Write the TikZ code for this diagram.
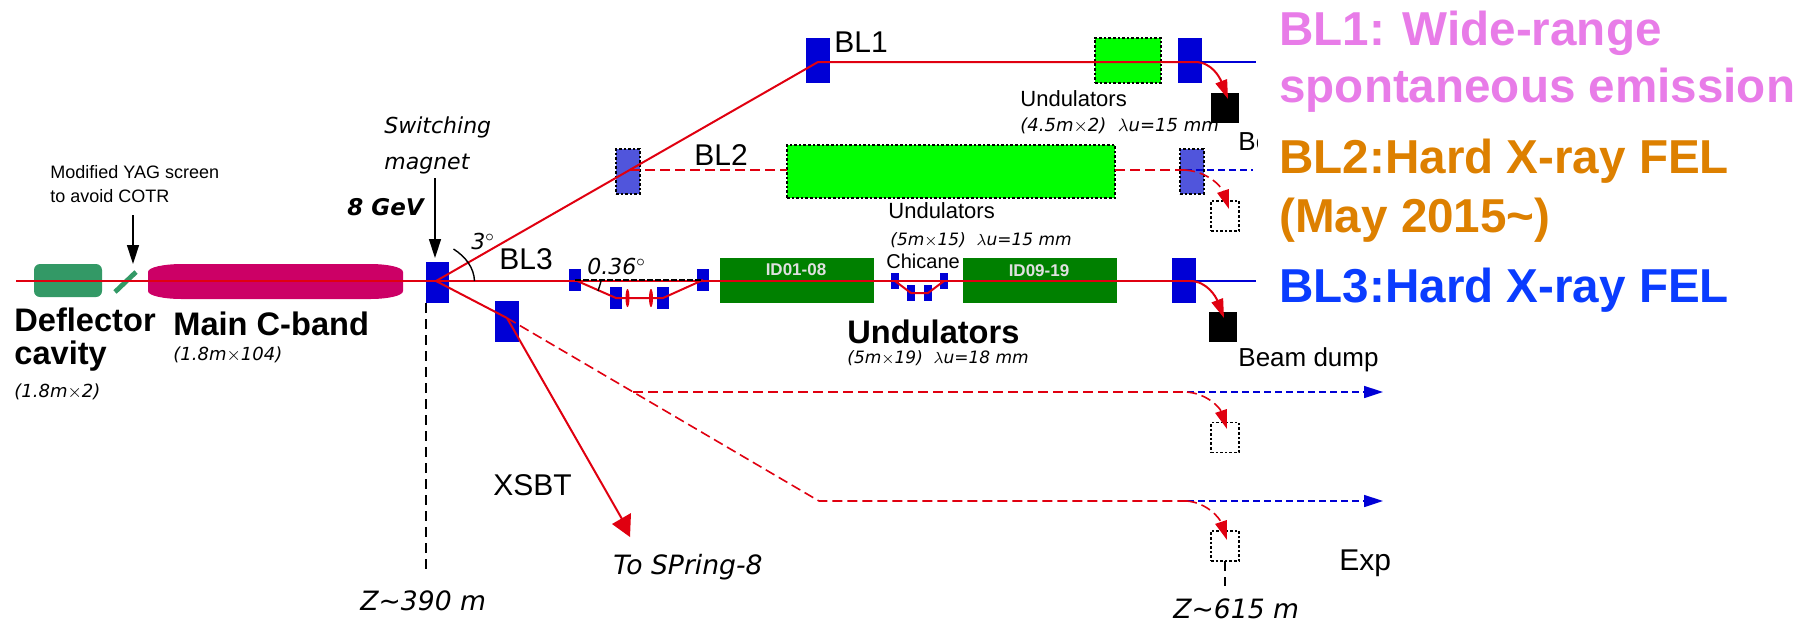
\documentclass[tikz,border=0pt]{standalone}
\usepackage{fontspec}
\setmainfont{Liberation Sans}
\newfontfamily\itfont[ItalicFont={DejaVu Sans Oblique},BoldItalicFont={DejaVu Sans Bold Oblique}]{DejaVu Sans}
\usepackage{tikz}
\usetikzlibrary{arrows.meta}

\definecolor{beamred}{RGB}{224,0,16}
\definecolor{magblue}{RGB}{0,0,214}
\definecolor{magfade}{RGB}{80,85,220}
\definecolor{defgreen}{RGB}{51,153,102}
\definecolor{cbandred}{RGB}{204,0,102}
\definecolor{undgreen}{RGB}{0,128,0}
\definecolor{undlime}{RGB}{0,255,0}
\definecolor{blone}{RGB}{232,124,232}
\definecolor{bltwo}{RGB}{221,128,0}
\definecolor{blthree}{RGB}{10,60,255}

\tikzset{
  box/.style={inner sep=0pt,outer sep=0pt},
  offline/.style={draw=black,line width=0.7pt,dash pattern=on 1.3pt off 1pt},
  magnet/.style={box,fill=magblue},
  magoff/.style={box,fill=magfade,offline},
  undon/.style={box,fill=undlime,offline},
  undoff/.style={box,fill=undgreen},
  dump/.style={box,fill=black,minimum width=14pt,minimum height=15pt},
  dumpoff/.style={box,offline,minimum width=14pt,minimum height=15pt},
  beam/.style={beamred,line width=1pt},
  beamoff/.style={beamred,line width=0.8pt,dash pattern=on 5pt off 2.5pt},
  xray/.style={magblue,line width=1pt},
  xrayoff/.style={magblue,line width=0.8pt,dash pattern=on 3.5pt off 2pt},
  bigtip/.style={-{Triangle[length=9.5pt,width=6pt]}},
  guide/.style={black,line width=0.7pt},
  lab/.style={inner sep=0pt,font=\fontsize{11}{13}\selectfont},
  dumplab/.style={inner sep=0pt,font=\fontsize{13}{15}\selectfont},
  biglab/.style={inner sep=0pt,font=\fontsize{15}{17}\selectfont},
  boldlab/.style={inner sep=0pt,font=\fontsize{16.3}{18}\selectfont\bfseries},
  itlab/.style={inner sep=0pt,font=\fontsize{9}{11}\itfont\itshape},
  itsmall/.style={inner sep=0pt,font=\fontsize{8.5}{11}\itfont\itshape},
  ittall/.style={inner sep=0pt,font=\fontsize{11}{12}\itfont\itshape},
  itlarge/.style={inner sep=0pt,font=\fontsize{13.3}{15}\itfont\itshape},
  smalllab/.style={inner sep=0pt,font=\fontsize{9}{10}\selectfont},
  idlab/.style={inner sep=0pt,text=black!12,font=\fontsize{8.5}{10}\selectfont\bfseries},
  head/.style={inner sep=0pt,anchor=base west,font=\fontsize{23.8}{26}\selectfont\bfseries},
}

\begin{document}
\begin{tikzpicture}[x=0.5pt,y=-0.5pt]
  \useasboundingbox (0,0) rectangle (1804,623);

  % linac
  \node[box,fill=defgreen,rounded corners=3pt,minimum width=34pt,minimum height=16.5pt] at (68,280.5) (defl) {};
  \fill[cbandred] (148,272) .. controls (148,267) and (165,264) .. (182,264) -- (370,264)
    .. controls (387,264) and (403,267) .. (403,272) -- (403,291)
    .. controls (403,296) and (387,299) .. (370,299) -- (182,299)
    .. controls (165,299) and (148,296) .. (148,291) -- cycle;
  \coordinate (yagA) at (115,292);
  \coordinate (yagB) at (136,272);
  \draw[defgreen,line width=2.4pt] (yagA) -- (yagB);

  % magnets on the three lines
  \node[magnet,minimum width=11.5pt,minimum height=20.5pt] at (437,282.5) (sw) {};
  \node[magnet,minimum width=12pt,minimum height=20.5pt] at (507,321.5) (swlow) {};
  \node[magnet,minimum width=12pt,minimum height=22.5pt] at (818,60.5) (magA) {};
  \node[magoff,minimum width=12pt,minimum height=22.5pt] at (628,171.5) (magB) {};
  \node[magnet,minimum width=12pt,minimum height=22.5pt] at (1190,60.5) (endA) {};
  \node[magoff,minimum width=12pt,minimum height=22.5pt] at (1192,171.5) (endB) {};
  \node[magnet,minimum width=12pt,minimum height=22.5pt] at (1184,280.5) (endC) {};

  % undulators
  \node[undon,minimum width=33pt,minimum height=22.5pt] at (1128,60.5) (undA) {};
  \node[undon,minimum width=164pt,minimum height=26.5pt] at (951,171.5) (undB) {};
  \node[undoff,minimum width=77pt,minimum height=22.5pt] at (797,280.5) (idA) {};
  \node[undoff,minimum width=77pt,minimum height=22.5pt] at (1040,280.5) (idB) {};
  \node[idlab] at (796,270) (idAlab) {ID01-08};
  \node[idlab] at (1039,271) (idBlab) {ID09-19};

  % first chicane
  \node[magnet,minimum width=6pt,minimum height=11pt] at (575,280) (hA) {};
  \node[magnet,minimum width=6pt,minimum height=11pt] at (616,298) (hB) {};
  \node[magnet,minimum width=6pt,minimum height=11pt] at (663,298) (hC) {};
  \node[magnet,minimum width=6pt,minimum height=11pt] at (703,280) (hD) {};
  \fill[beamred] (627.5,298) ellipse (1pt and 4.5pt);
  \fill[beamred] (651,298) ellipse (1pt and 4.5pt);

  % second chicane
  \node[magnet,minimum width=4pt,minimum height=8pt] at (895,281) (cA) {};
  \node[magnet,minimum width=4pt,minimum height=8pt] at (911,293) (cB) {};
  \node[magnet,minimum width=4pt,minimum height=8pt] at (928,293) (cC) {};
  \node[magnet,minimum width=4pt,minimum height=8pt] at (944,281) (cD) {};

  % beam dumps
  \node[dump] at (1225,107.5) (dumpA) {};
  \node[dumpoff] at (1225,216) (dumpB) {};
  \node[dump] at (1223,327) (dumpC) {};
  \node[dumpoff] at (1225,437.5) (dumpD) {};
  \node[dumpoff] at (1225,546) (dumpE) {};

  % beams
  \coordinate (start) at (16,281);
  \coordinate (bend) at (436,281);
  \coordinate (bendlow) at (507,318);
  \coordinate (kinkA) at (818,62);
  \coordinate (kinkB) at (630,170);
  \coordinate (undBin) at (787,170);
  \coordinate (undBout) at (1115,170);
  \coordinate (outA) at (1195,62);
  \coordinate (outB) at (1185,170);
  \coordinate (outC) at (1190,281);
  \coordinate (freeA) at (1256,62);
  \coordinate (freeB) at (1253,170);
  \coordinate (freeC) at (1256,281);
  \coordinate (kinkD) at (633,392);
  \coordinate (kinkE) at (819,501);
  \coordinate (outD) at (1187,392);
  \coordinate (outE) at (1187,501);
  \coordinate (freeD) at (1383,392);
  \coordinate (freeE) at (1383,501);
  \coordinate (xsbt) at (622,519);

  \draw[xray] (outA) -- (freeA);
  \draw[xrayoff] (outB) -- (freeB);
  \draw[xray] (outC) -- (freeC);
  \draw[xrayoff,bigtip] (outD) -- (freeD);
  \draw[xrayoff,bigtip] (outE) -- (freeE);

  \draw[beam] (start) -- (outC);
  \draw[beam] (bend) -- (kinkA) -- (outA);
  \draw[beam] (bend) -- (bendlow);
  \draw[beam] (bendlow) -- (xsbt);
  \fill[beamred] (612,524) -- (631,513) -- (630,537) -- cycle;
  \draw[beamoff] (kinkB) -- (undBin);
  \draw[beamoff] (undBout) -- (outB);
  \draw[beamoff] (bendlow) -- (kinkE) -- (outE);
  \draw[beamoff] (kinkD) -- (outD);

  \draw[beam,bigtip] (outA) .. controls (1212,62) and (1220,78) .. (1228,99);
  \draw[beam,bigtip] (outC) .. controls (1207,281) and (1216,297) .. (1224,318);
  \draw[beamoff,bigtip] (outB) .. controls (1210,172) and (1222,188) .. (1229,209);
  \draw[beamoff,bigtip] (outD) .. controls (1208,394) and (1220,408) .. (1227,429);
  \draw[beamoff,bigtip] (outE) .. controls (1208,503) and (1220,519) .. (1227,540);

  \draw[beam] (hA.center) -- (hB.center) -- (hC.center) -- (hD.center);
  \draw[beam] (cA.center) -- (cB.center) -- (cC.center) -- (cD.center);

  % guides
  \draw[guide,dash pattern=on 3pt off 1pt] (hA.center) -- (hD.center);
  \coordinate (swfoot) at (426,569);
  \coordinate (swhead) at (426,303);
  \draw[guide,dash pattern=on 5pt off 3pt] (swhead) -- (swfoot);
  \coordinate (endfoot) at (1225,586);
  \draw[guide,dash pattern=on 5pt off 3pt] (dumpE) -- (endfoot);
  \draw[guide] (453.5,249) .. controls (466,257) and (474,268) .. (474.5,281);
  \draw[guide] (601,281) .. controls (600,285) and (599,288) .. (598,291);

  \coordinate (yagtop) at (133,215);
  \coordinate (yagtip) at (133,264);
  \draw[guide,bigtip] (yagtop) -- (yagtip);
  \coordinate (swtop) at (435,178);
  \coordinate (swtip) at (435,258);
  \draw[guide,bigtip] (swtop) -- (swtip);

  % labels
  \node[boldlab,anchor=west] at (14,320) (defa) {Deflector};
  \node[boldlab,anchor=west] at (14,356) (defb) {cavity};
  \node[itlab,anchor=west] at (14,392) (defc) {(1.8m$\times$2)};
  \node[boldlab,anchor=west] at (173,324) (cband) {Main C-band};
  \node[itlab,anchor=west] at (173,355) (cbandb) {(1.8m$\times$104)};
  \node[smalllab,anchor=west] at (50,172) (yaga) {Modified YAG screen};
  \node[smalllab,anchor=west] at (50,196) (yagb) {to avoid COTR};
  \node[ittall,anchor=west] at (384,127) (swa) {Switching};
  \node[ittall,anchor=west] at (384,164) (swb) {magnet};
  \node[ittall,anchor=west,font=\fontsize{11.5}{12}\itfont\bfseries\itshape] at (347,207) (gev) {8 GeV};
  \node[ittall,anchor=west] at (471,241) (anga) {3$^\circ$};
  \node[ittall,anchor=west] at (587,266) (angb) {0.36$^\circ$};

  \node[biglab,anchor=west] at (834,42) (laba) {BL1};
  \node[biglab,anchor=west] at (694,155) (labb) {BL2};
  \node[biglab,anchor=west] at (499,259) (labc) {BL3};
  \node[biglab,anchor=west] at (493,485) (labx) {XSBT};
  \node[biglab,anchor=west] at (1339,563) (labe) {Exp};

  \node[lab,anchor=west] at (1020,99) (undaa) {Undulators};
  \node[itlab,anchor=west] at (1020,126) (undab) {(4.5m$\times$2)\ \ $\lambda$u=15 mm};
  \node[lab,anchor=west] at (888,211) (undba) {Undulators};
  \node[itsmall,anchor=west] at (890,240) (undbb) {(5m$\times$15)\ \ $\lambda$u=15 mm};
  \node[lab,anchor=west,font=\fontsize{10}{12}\selectfont] at (886,261) (chic) {Chicane};
  \node[boldlab,anchor=west] at (847,332) (undca) {Undulators};
  \node[itsmall,anchor=west] at (847,358) (undcb) {(5m$\times$19)\ \ $\lambda$u=18 mm};
  \node[dumplab,anchor=west] at (1238,360) (dumpnote) {Beam dump};
  \begin{scope}
    \clip (1230,125) rectangle (1257,160);
    \node[dumplab,anchor=west] at (1238,142) (dumpcut) {Be};
  \end{scope}

  \node[itlarge,anchor=west] at (613,567) (tospring) {To SPring-8};
  \node[itlarge,anchor=west] at (360,601) (za) {Z\textasciitilde 390 m};
  \node[itlarge,anchor=west] at (1173,609) (zb) {Z\textasciitilde 615 m};

  \node[head,text=blone] at (1279,45) (heada) {BL1: Wide-range};
  \node[head,text=blone] at (1279,102) (headb) {spontaneous emission};
  \node[head,text=bltwo] at (1279,173) (headc) {BL2:Hard X-ray FEL};
  \node[head,text=bltwo] at (1279,232) (headd) {(May 2015\textasciitilde)};
  \node[head,text=blthree] at (1279,302) (heade) {BL3:Hard X-ray FEL};

\end{tikzpicture}
\end{document}
